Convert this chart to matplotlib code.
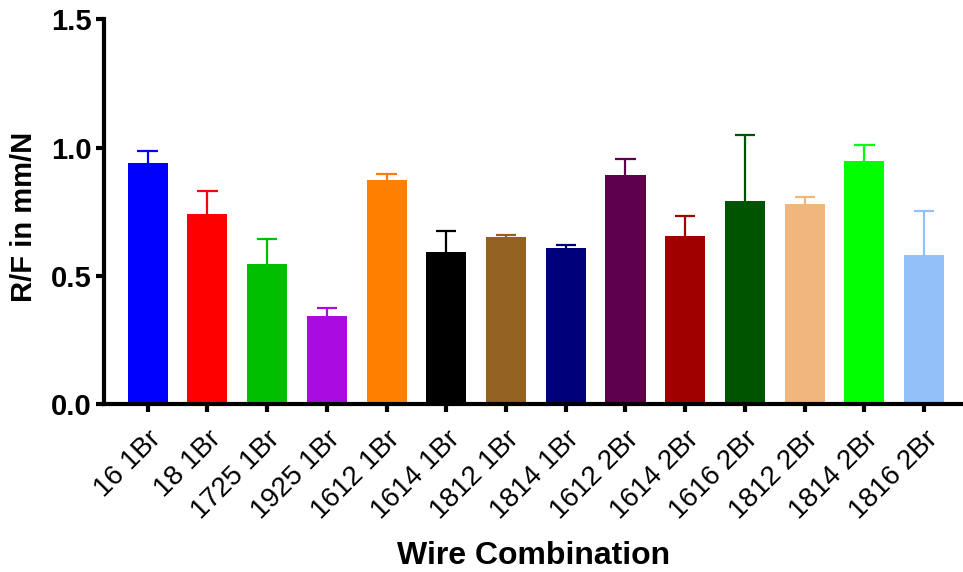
import matplotlib
matplotlib.use("Agg")
import matplotlib.pyplot as plt
import numpy as np

categories = ["16 1Br", "18 1Br", "1725 1Br", "1925 1Br", "1612 1Br", "1614 1Br",
              "1812 1Br", "1814 1Br", "1612 2Br", "1614 2Br", "1616 2Br", "1812 2Br",
              "1814 2Br", "1816 2Br"]
means = [0.941, 0.740, 0.547, 0.343, 0.874, 0.592, 0.650, 0.610, 0.893, 0.654,
         0.791, 0.779, 0.948, 0.581]
errors = [0.046, 0.092, 0.098, 0.030, 0.023, 0.084, 0.009, 0.010, 0.062, 0.081,
          0.257, 0.030, 0.064, 0.173]
colors = ["#0000FF", "#FF0000", "#00BF00", "#AA0BE0", "#FF8000", "#000000",
          "#936222", "#00007A", "#5E004E", "#A00000", "#005400", "#F1B67E",
          "#00FF00", "#93C0F8"]
yticks = [0.0, 0.5, 1.0, 1.5]
ytick_labels = ["0.0", "0.5", "1.0", "1.5"]

plt.rcParams['font.family'] = ['Liberation Sans', 'DejaVu Sans']

fig = plt.figure(figsize=(9.63, 5.72), dpi=100)
ax = fig.add_axes([0.108, 0.2937, 0.892, 0.6723])

x = np.arange(len(categories))
bar_w = 0.67
cap_half = 0.17
ax.bar(x, means, width=bar_w, color=colors, linewidth=0, zorder=2)
tops = [m + e for m, e in zip(means, errors)]
ax.vlines(x, means, tops, colors=colors, linewidth=1.6, zorder=1)
ax.hlines(tops, x - cap_half, x + cap_half, colors=colors, linewidth=1.6, zorder=1)

ax.set_xlim(-0.73, 13.65)
ax.set_ylim(0, 1.5)
ax.set_yticks(yticks)
ax.set_yticklabels(ytick_labels, fontsize=21, fontweight='bold')
ax.set_xticks(x)
ax.set_xticklabels(categories, rotation=45, ha='right', va='top',
                   rotation_mode='anchor', fontsize=20)

for s in ['top', 'right']:
    ax.spines[s].set_visible(False)
for s in ['left', 'bottom']:
    ax.spines[s].set_linewidth(3)
ax.tick_params(axis='both', direction='out', length=6, width=3, pad=3)
ax.tick_params(axis='x', pad=10)

ax.set_ylabel("R/F in mm/N", fontsize=21, fontweight='bold')
ax.yaxis.set_label_coords(-0.077, 0.487)
ax.set_xlabel("Wire Combination", fontsize=23, fontweight='bold', labelpad=12)

fig.savefig("out.png", dpi=100)
